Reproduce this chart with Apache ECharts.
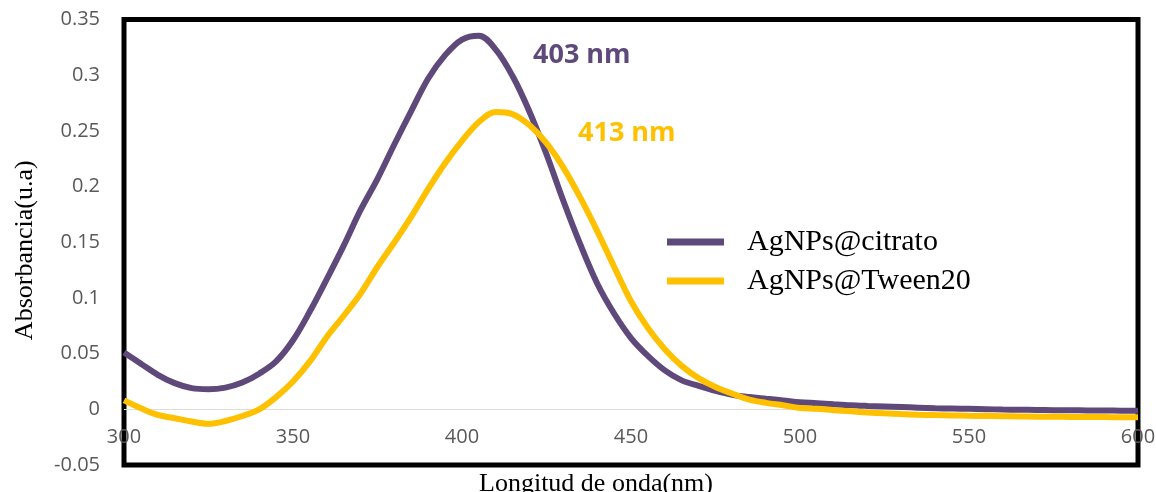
<!DOCTYPE html>
<html>
<head>
<meta charset="utf-8">
<title>Espectros UV-Vis AgNPs</title>
<script src="https://cdn.jsdelivr.net/npm/echarts@6/dist/echarts.min.js"></script>
<style>
  html, body { margin: 0; padding: 0; background: #fff; }
  #chart { width: 1156px; height: 492px; }
</style>
</head>
<body>
<div id="chart"></div>
<script>
// Wavelength grid (nm), every 5 nm from 300 to 600
const wavelengths = [
  300, 305, 310, 315, 320, 325, 330, 335, 340, 345,
  350, 355, 360, 365, 370, 375, 380, 385, 390, 395,
  400, 405, 410, 415, 420, 425, 430, 435, 440, 445,
  450, 455, 460, 465, 470, 475, 480, 485, 490, 495,
  500, 505, 510, 515, 520, 525, 530, 535, 540, 545,
  550, 555, 560, 565, 570, 575, 580, 585, 590, 595,
  600
];

// Absorbance of citrate-capped silver nanoparticles
const citrato = [
  0.051, 0.041, 0.031, 0.0235, 0.019, 0.018, 0.0195, 0.024, 0.032, 0.043,
  0.062, 0.088, 0.117, 0.147, 0.179, 0.207, 0.238, 0.268, 0.297, 0.318,
  0.332, 0.3355, 0.323, 0.299, 0.267, 0.229, 0.187, 0.148, 0.113, 0.086,
  0.064, 0.048, 0.035, 0.026, 0.021, 0.0165, 0.013, 0.011, 0.0095, 0.008,
  0.0063, 0.0055, 0.0045, 0.0036, 0.003, 0.0025, 0.002, 0.0015, 0.001, 0.0007,
  0.0004, 0.0001, -0.0002, -0.0004, -0.0006, -0.0008, -0.0009, -0.001, -0.0011, -0.0012,
  -0.0012
];

// Absorbance of Tween 20-stabilised silver nanoparticles
const tween20 = [
  0.008, 0.001, -0.005, -0.008, -0.011, -0.013, -0.0105, -0.006, 0.0, 0.011,
  0.025, 0.043, 0.065, 0.084, 0.104, 0.128, 0.150, 0.173, 0.198, 0.221,
  0.241, 0.258, 0.267, 0.265, 0.255, 0.239, 0.217, 0.190, 0.160, 0.128,
  0.097, 0.073, 0.054, 0.039, 0.028, 0.020, 0.014, 0.0087, 0.0058, 0.0036,
  0.0012, 0.0004, -0.0008, -0.0018, -0.0028, -0.0036, -0.0043, -0.0048, -0.0052, -0.0055,
  -0.0058, -0.006, -0.0062, -0.0064, -0.0066, -0.0067, -0.0068, -0.0069, -0.007, -0.0071,
  -0.0072
];

const seriesNames = ['AgNPs@citrato', 'AgNPs@Tween20'];
const peakLabels = ['403 nm', '413 nm'];

const purple = '#5F497A';
const gold = '#FFC000';

const pairs = (ys) => wavelengths.map((x, i) => [x, ys[i]]);

const chart = echarts.init(document.getElementById('chart'), null, { renderer: 'canvas' });

chart.setOption({
  animation: false,
  backgroundColor: '#ffffff',
  grid: {
    left: 124,
    right: 18,
    top: 19.5,
    bottom: 27,
    outerBoundsMode: 'none',
    containLabel: false,
    show: true,
    borderColor: '#000000',
    borderWidth: 5,
    backgroundColor: 'transparent'
  },
  legend: {
    data: seriesNames,
    orient: 'vertical',
    left: 667,
    top: 227,
    padding: 0,
    icon: 'rect',
    itemWidth: 57,
    itemHeight: 7,
    itemGap: 9,
    textStyle: {
      fontFamily: '"Liberation Serif", "Times New Roman", serif',
      fontSize: 30,
      lineHeight: 30,
      color: '#000000',
      padding: [0, 0, 0, 18]
    }
  },
  xAxis: {
    type: 'value',
    min: 300,
    max: 600,
    interval: 50,
    name: 'Longitud de onda(nm)',
    nameLocation: 'middle',
    nameGap: 5,
    nameTextStyle: {
      fontFamily: '"Liberation Serif", "Times New Roman", serif',
      fontSize: 26,
      color: '#000000',
      padding: [0, 70, 0, 0]
    },
    axisLine: { show: false, onZero: false },
    axisTick: { show: false },
    splitLine: { show: false },
    axisLabel: {
      inside: true,
      margin: 18,
      fontFamily: '"Open Sans", sans-serif',
      fontSize: 20,
      color: '#595959'
    }
  },
  yAxis: {
    type: 'value',
    min: -0.05,
    max: 0.35,
    interval: 0.05,
    name: 'Absorbancia(u.a)',
    nameLocation: 'middle',
    nameGap: 86,
    nameTextStyle: {
      fontFamily: '"Liberation Serif", "Times New Roman", serif',
      fontSize: 26,
      color: '#000000',
      padding: [0, 16, 0, 0]
    },
    axisLine: { show: false },
    axisTick: { show: false },
    splitLine: { show: false },
    axisLabel: {
      margin: 24,
      fontFamily: '"Open Sans", sans-serif',
      fontSize: 20,
      color: '#595959',
      formatter: (v) => String(parseFloat(v.toFixed(2)))
    }
  },
  series: [
    {
      name: seriesNames[0],
      type: 'line',
      data: pairs(citrato),
      showSymbol: false,
      symbol: 'none',
      smooth: 0.35,
      color: purple,
      lineStyle: { color: purple, width: 6 },
      z: 2,
      // zero baseline of the absorbance axis
      markLine: {
        silent: true,
        symbol: 'none',
        label: { show: false },
        lineStyle: { color: '#DEDED6', width: 1, type: 'solid' },
        data: [{ yAxis: 0 }],
        z: 1
      }
    },
    {
      name: seriesNames[1],
      type: 'line',
      data: pairs(tween20),
      showSymbol: false,
      symbol: 'none',
      smooth: 0.35,
      color: gold,
      lineStyle: { color: gold, width: 6 },
      z: 3
    }
  ],
  graphic: [
    {
      type: 'text',
      left: 533,
      top: 42,
      style: {
        text: peakLabels[0],
        fill: purple,
        font: 'bold 27px "Open Sans", sans-serif'
      }
    },
    {
      type: 'text',
      left: 578,
      top: 120,
      style: {
        text: peakLabels[1],
        fill: gold,
        font: 'bold 27px "Open Sans", sans-serif'
      }
    }
  ]
});
</script>
</body>
</html>
